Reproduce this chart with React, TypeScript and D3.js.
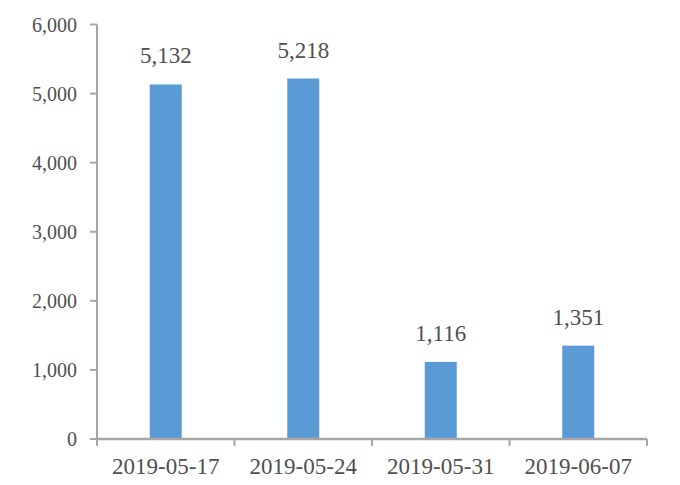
import React from "react";
import * as d3 from "d3";

const categories = ["2019-05-17", "2019-05-24", "2019-05-31", "2019-06-07"];
const values = [5132, 5218, 1116, 1351];
const yTicks = [0, 1000, 2000, 3000, 4000, 5000, 6000];

const W = 680;
const H = 485;
const margin = { left: 97, right: 33, top: 24.5, bottom: 46 };

export default function App() {
  const x = d3
    .scaleBand<string>()
    .domain(categories)
    .range([margin.left, W - margin.right])
    .paddingInner(0)
    .paddingOuter(0);
  const y = d3
    .scaleLinear()
    .domain([0, 6000])
    .range([H - margin.bottom, margin.top]);
  const fmt = d3.format(",");
  const barW = 32;
  const axisColor = "#a6a6a6";
  const textColor = "#505050";
  const font = "'Liberation Serif', 'Times New Roman', serif";
  const y0 = y(0);
  const boundaries = categories.map((c) => x(c)!).concat([x(categories[categories.length - 1])! + x.bandwidth()]);

  return (
    <svg
      width={W}
      height={H}
      style={{ position: "absolute", left: 0, top: 0, background: "#fff" }}
      fontFamily={font}
    >
      {/* bars */}
      {categories.map((c, i) => {
        const cx = x(c)! + x.bandwidth() / 2;
        return (
          <g key={c}>
            <rect
              x={cx - barW / 2}
              y={y(values[i])}
              width={barW}
              height={y0 - y(values[i])}
              fill="#5b9bd5"
            />
            <text
              x={cx}
              y={y(values[i]) - 21}
              textAnchor="middle"
              fontSize={23}
              fill={textColor}
            >
              {fmt(values[i])}
            </text>
            <text x={cx} y={y0 + 35} textAnchor="middle" fontSize={23} fill={textColor}>
              {c}
            </text>
          </g>
        );
      })}
      {/* y axis */}
      <line x1={margin.left} x2={margin.left} y1={y(6000)} y2={y0} stroke={axisColor} strokeWidth={2} />
      {yTicks.map((t) => (
        <g key={t}>
          <line x1={margin.left - 7} x2={margin.left} y1={y(t)} y2={y(t)} stroke={axisColor} strokeWidth={2} />
          <text
            x={margin.left - 20}
            y={y(t)}
            dy="0.35em"
            textAnchor="end"
            fontSize={20}
            fill={textColor}
          >
            {fmt(t)}
          </text>
        </g>
      ))}
      {/* x axis */}
      <line
        x1={margin.left - 1}
        x2={W - margin.right}
        y1={y0}
        y2={y0}
        stroke={axisColor}
        strokeWidth={2.5}
      />
      {boundaries.map((bx, i) => (
        <line key={i} x1={bx} x2={bx} y1={y0} y2={y0 + 7} stroke={axisColor} strokeWidth={2} />
      ))}
    </svg>
  );
}
